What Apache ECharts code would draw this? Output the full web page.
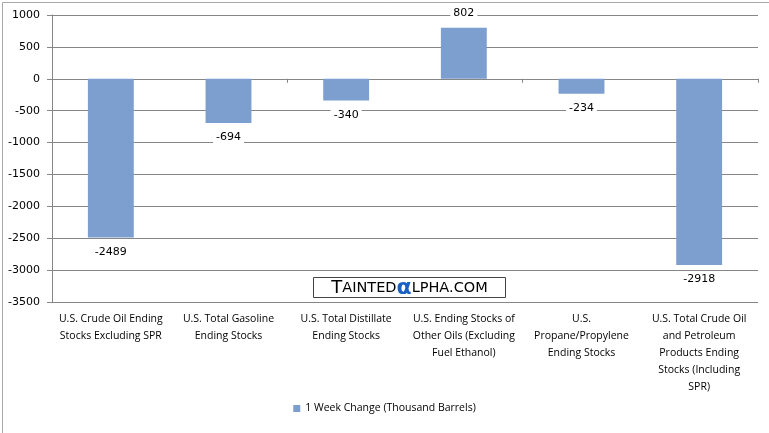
<!DOCTYPE html>
<html><head><meta charset="utf-8">
<script src="https://cdn.jsdelivr.net/npm/echarts@6/dist/echarts.min.js"></script>
<style>html,body{margin:0;padding:0;background:#fff}#c{width:769px;height:433px}</style>
</head><body><div id="c"></div>
<script>
const categories = [
  "U.S. Crude Oil Ending\nStocks Excluding SPR",
  "U.S. Total Gasoline\nEnding Stocks",
  "U.S. Total Distillate\nEnding Stocks",
  "U.S. Ending Stocks of\nOther Oils (Excluding\nFuel Ethanol)",
  "U.S.\nPropane/Propylene\nEnding Stocks",
  "U.S. Total Crude Oil\nand Petroleum\nProducts Ending\nStocks (Including\nSPR)"
];
const weekChange = [-2489, -694, -340, 802, -234, -2918];
const seriesName = "1 Week Change (Thousand Barrels)";
const yMin = -3500, yMax = 1000, yStep = 500;

const chart = echarts.init(document.getElementById('c'));
const gridColor = '#868686';
chart.setOption({
  backgroundColor: '#fff',
  animation: false,
  grid: {left: 52, right: 11, top: 15, bottom: 131},
  xAxis: [{
    type: 'category', data: categories,
    axisLine: {onZero: true, lineStyle: {color: gridColor, width: 1}},
    axisTick: {show: true, length: 4, lineStyle: {color: gridColor}},
    axisLabel: {show: false}
  }, {
    type: 'category', data: categories, position: 'bottom',
    axisLine: {show: false, onZero: false}, axisTick: {show: false},
    axisLabel: {interval: 0, color: '#000', fontFamily: 'Open Sans', fontSize: 10.5, lineHeight: 17, margin: 9, align: 'center'}
  }],
  yAxis: {
    type: 'value', min: yMin, max: yMax, interval: yStep,
    axisLine: {show: true, lineStyle: {color: gridColor}},
    axisTick: {show: true, length: 5, lineStyle: {color: gridColor}},
    splitLine: {show: true, lineStyle: {color: gridColor, width: 1}},
    axisLabel: {color: '#000', fontFamily: 'DejaVu Sans', fontSize: 11, margin: 12, formatter: v => String(v)}
  },
  legend: {
    bottom: 14, left: 'center', icon: 'rect', itemWidth: 7, itemHeight: 7, itemGap: 5,
    textStyle: {color: '#000', fontFamily: 'Open Sans', fontSize: 10.5},
    data: [seriesName]
  },
  series: [{
    name: seriesName, type: 'bar', xAxisIndex: 0, barWidth: '39%',
    itemStyle: {color: '#7c9fd0'},
    label: {show: true, color: '#000', fontFamily: 'DejaVu Sans', fontSize: 11, backgroundColor: '#fff', padding: [1, 3], distance: 8},
    data: weekChange.map(v => ({value: v, label: {position: v < 0 ? 'bottom' : 'top'}}))
  }],
  graphic: [
    {type: 'rect', left: 0, top: 0, shape: {width: 768, height: 432}, style: {fill: 'none', stroke: '#a8a8a8', lineWidth: 1}, z: 100},
    {type: 'group', left: 313, top: 277, z: 50, children: [
      {type: 'rect', shape: {x: 0, y: 0, width: 192, height: 20}, style: {fill: '#fff', stroke: '#444', lineWidth: 1}},
      {type: 'text', x: 96, y: 11, style: {
        text: '{a|T}{b|AINTED}{c|α}{b|LPHA.COM}', align: 'center', verticalAlign: 'middle',
        rich: {
          a: {fontFamily: 'DejaVu Sans', fontSize: 18, fill: '#000', verticalAlign: 'middle', lineHeight: 18},
          b: {fontFamily: 'DejaVu Sans', fontSize: 14.5, fill: '#000', verticalAlign: 'middle', lineHeight: 18},
          c: {fontFamily: 'DejaVu Sans', fontSize: 22, fill: '#1a5fc4', fontWeight: 'bold', verticalAlign: 'middle', lineHeight: 18}
        }
      }}
    ]}
  ]
});
</script></body></html>
